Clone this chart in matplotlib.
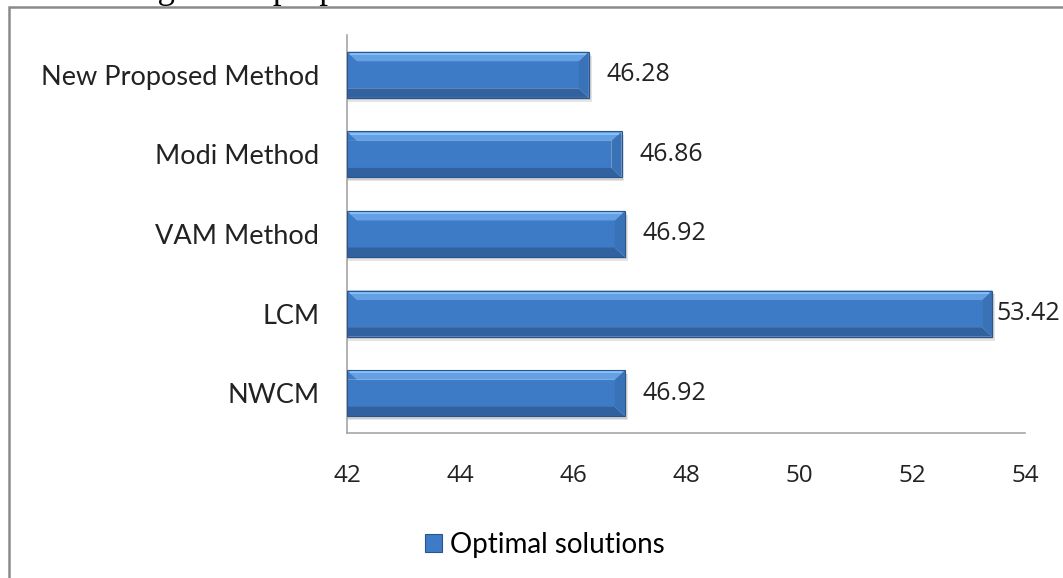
import matplotlib
matplotlib.use("agg")
import matplotlib.pyplot as plt
from matplotlib.patches import Polygon, Rectangle

# data, listed bottom to top as in the chart
methods = ["NWCM", "LCM", "VAM Method", "Modi Method", "New Proposed Method"]
solutions = [46.92, 53.42, 46.92, 46.86, 46.28]
xticks = [42, 44, 46, 48, 50, 52, 54]
series_name = "Optimal solutions"

W, H = 1063, 578
fig = plt.figure(figsize=(W / 100, H / 100), dpi=100)

# frame of the embedded chart and the cut-off line of text above it
fig.patches.append(Rectangle((9 / W, -0.1), 1.2, 1.1 - 7.5 / H,
                             transform=fig.transFigure, fill=False,
                             edgecolor="#8a8a8a", lw=1.8))
fig.text(73 / W, 1 + 2 / H, "Testing of the proposed method",
         family="Liberation Serif", fontsize=25, va="baseline")

ax = fig.add_axes([347 / W, 1 - 433 / H, (1025 - 347) / W, (433 - 35) / H])
ax.set_xlim(42, 54)
ax.set_ylim(-0.5, len(methods) - 0.5)

bh = 0.58
bx = 0.18   # bevel width in x units
by = 0.12   # bevel height in y units
for i, v in enumerate(solutions):
    x0, x1 = 42, v
    y0, y1 = i - bh / 2, i + bh / 2
    # soft shadow
    ax.add_patch(Rectangle((x0, y0 - 0.05), v - 42 + 0.05, bh,
                           facecolor="black", alpha=0.10, lw=0, zorder=1))
    ax.add_patch(Rectangle((x0, y0 - 0.03), v - 42 + 0.03, bh,
                           facecolor="black", alpha=0.10, lw=0, zorder=1))
    faces = [
        ([(x0, y0 + by), (x1 - bx, y0 + by), (x1 - bx, y1 - by), (x0, y1 - by)], "#3e7bc6"),
        ([(x0, y1), (x1, y1), (x1 - bx, y1 - by), (x0 + bx, y1 - by)], "#64a0e4"),
        ([(x0, y0), (x1, y0), (x1 - bx, y0 + by), (x0, y0 + by)], "#31629f"),
        ([(x0, y1), (x0 + bx, y1 - by), (x0, y1 - by)], "#3e7bc6"),
        ([(x1, y0), (x1, y1), (x1 - bx, y1 - by), (x1 - bx, y0 + by)], "#3a72b8"),
    ]
    for pts, c in faces:
        ax.add_patch(Polygon(pts, closed=True, facecolor=c, lw=0, zorder=2))
    # light strip along the very top
    ax.add_patch(Rectangle((x0 + bx * 0.3, y1 - 0.04), v - 42 - bx * 0.6, 0.025,
                           facecolor="#88c0f4", lw=0, zorder=3))
    ax.add_patch(Rectangle((x0, y0), v - 42, bh, fill=False,
                           edgecolor="#2a5490", lw=0.8, zorder=4))
    off = 4 if v == max(solutions) else 18
    ax.annotate(f"{v:.2f}", (v, i), xytext=(off * 0.72, 0),
                textcoords="offset points", va="center", ha="left",
                family="Open Sans", fontsize=18, color="#222222")

ax.set_yticks(range(len(methods)))
ax.set_yticklabels(methods, family="Lato", fontsize=19.5, color="#222222")
ax.set_xticks(xticks)
ax.set_xticklabels([str(t) for t in xticks], family="Open Sans",
                   fontsize=17.5, color="#222222")
ax.tick_params(axis="both", length=0)
ax.tick_params(axis="y", pad=20)
ax.tick_params(axis="x", pad=22)
for s in ["top", "right"]:
    ax.spines[s].set_visible(False)
for s in ["left", "bottom"]:
    ax.spines[s].set_color("#a6a6a6")
    ax.spines[s].set_linewidth(1.2)

handle = Rectangle((0, 0), 1, 1, facecolor="#3e7bc6", edgecolor="#2a5490", lw=0.8)
fig.legend([handle], [series_name], loc="center",
           bbox_to_anchor=(545 / W, 1 - 545 / H), frameon=False,
           prop={"family": "Lato", "size": 20}, handlelength=0.6,
           handleheight=0.6, handletextpad=0.32)

fig.savefig("out.png", dpi=100)
